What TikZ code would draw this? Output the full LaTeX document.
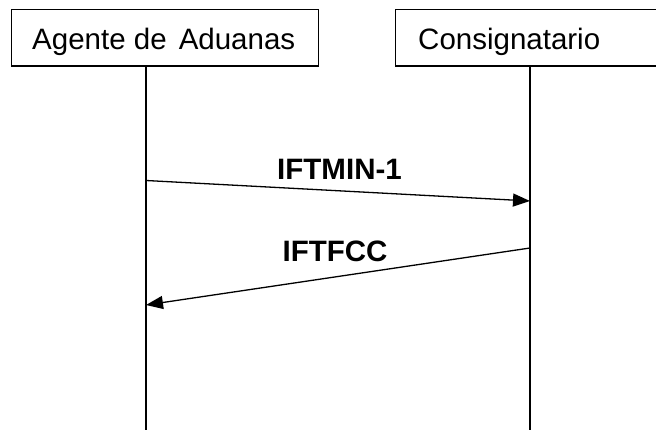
\documentclass[tikz,border=0pt]{standalone}
\usepackage{fontspec}
\setmainfont{Liberation Sans}
\usetikzlibrary{arrows.meta}
\begin{document}
\begin{tikzpicture}[x=1pt,y=-1pt,
  actor/.style={draw,line width=1.3pt,rectangle,anchor=north west,minimum height=56.5pt,inner sep=0pt},
  aname/.style={anchor=base west,inner sep=0pt,font=\fontsize{29.5}{34}\selectfont},
  life/.style={line width=1.3pt},
  msg/.style={line width=1.3pt,-{Triangle[length=17pt,width=13pt]}},
  mlabel/.style={font=\fontsize{29.5}{34}\selectfont\bfseries,anchor=base,inner sep=0pt}]
\useasboundingbox (0,0) rectangle (656,430);
\node[actor,minimum width=307pt] (box1) at (11,9) {};
\node[actor,minimum width=290pt] (box2) at (395,9) {};
\node[aname] (t1) at (32,50) {Agente de\hspace{0.41em}Aduanas};
\node[aname] (t2) at (418,50) {Consignatario};
\coordinate (l1bot) at (146,432);
\coordinate (l2bot) at (530,432);
\draw[life] (box1.south -| l1bot) -- (l1bot);
\draw[life] (box2.south -| l2bot) -- (l2bot);
\coordinate (m1s) at (146,180.5);
\coordinate (m1e) at (530,201);
\coordinate (m2s) at (530,248);
\coordinate (m2e) at (146,305);
\draw[msg] (m1s) -- (m1e);
\draw[msg] (m2s) -- (m2e);
\node[mlabel] (lab1) at (339.5,180) {IFTMIN-1};
\node[mlabel] (lab2) at (335,261.5) {IFTFCC};
\end{tikzpicture}
\end{document}
